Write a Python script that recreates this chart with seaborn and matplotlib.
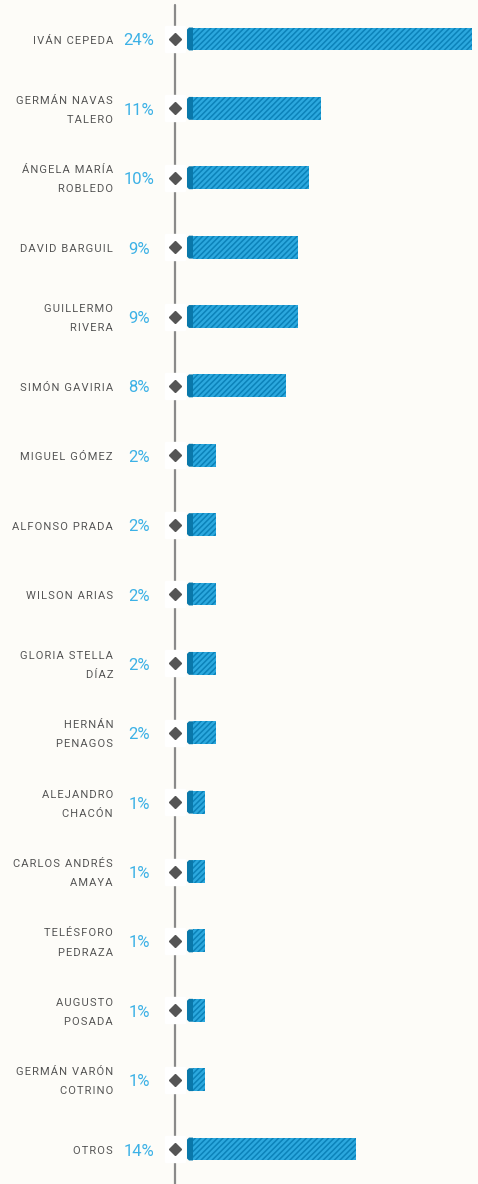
import matplotlib
matplotlib.use('Agg')
import matplotlib.pyplot as plt
import seaborn as sns
import pandas as pd

# candidates and vote share (%)
names = ['IVÁN CEPEDA', 'GERMÁN NAVAS\nTALERO', 'ÁNGELA MARÍA\nROBLEDO', 'DAVID BARGUIL',
         'GUILLERMO\nRIVERA', 'SIMÓN GAVIRIA', 'MIGUEL GÓMEZ', 'ALFONSO PRADA',
         'WILSON ARIAS', 'GLORIA STELLA\nDÍAZ', 'HERNÁN\nPENAGOS', 'ALEJANDRO\nCHACÓN',
         'CARLOS ANDRÉS\nAMAYA', 'TELÉSFORO\nPEDRAZA', 'AUGUSTO\nPOSADA',
         'GERMÁN VARÓN\nCOTRINO', 'OTROS']
values = [24, 11, 10, 9, 9, 8, 2, 2, 2, 2, 2, 1, 1, 1, 1, 1, 14]
labels = [f'{v}%' for v in values]

bg = '#fdfcf8'
bar_color = '#2ca8de'
stripe_color = '#0b82b9'
cap_color = '#0a78aa'

sns.set_style('white')
plt.rcParams['font.family'] = ['Roboto', 'DejaVu Sans']
plt.rcParams['hatch.linewidth'] = 1.1


def spaced(s):
    # fake letter spacing with hair spaces
    return '\n'.join('\u200a'.join(line) for line in s.split('\n'))


df = pd.DataFrame({'name': names, 'value': values})

fig = plt.figure(figsize=(4.78, 11.84), dpi=100, facecolor=bg)
ax = fig.add_axes([0, 0, 1, 1])
ax.set_facecolor(bg)

sns.barplot(data=df, x='value', y='name', orient='h', color=bar_color,
            saturation=1, width=0.33, ax=ax)
for p in ax.patches:
    p.set_hatch('//////')
    p.set_edgecolor(stripe_color)
    p.set_linewidth(0)

# px -> data scale
px = 11.625
py = 69.375
ax.set_xlim(-193 / px, (478 - 193) / px)
ax.set_ylim(16.504, -0.562)

line_x = -18 / px
ax.axvline(line_x, ymin=0, ymax=1 - 5 / 1184, color='#8a8a8a', lw=1.6, zorder=1)

ys = list(range(len(names)))
# white box behind the diamonds
ax.barh(ys, width=20 / px, left=(165 - 193) / px, height=26 / py,
        color='white', zorder=2)
ax.plot([line_x] * len(ys), ys, 'D', color='#555555', markersize=6.2, zorder=3)

# darker left cap of each bar
cw = 6 / px
ch = 2 / px
h = 0.33 / 2
for i in ys:
    ax.fill([-cw, -cw + ch, 0, 0, -cw + ch, -cw],
            [i - h + 2 / py, i - h, i - h, i + h, i + h, i + h - 2 / py],
            color=cap_color, lw=0, zorder=3)

dy = 2 / py
for i, (n, lab) in enumerate(zip(names, labels)):
    ax.text(-80 / px, i + dy, spaced(n), ha='right', va='center', fontsize=8,
            color='#555555', linespacing=2.15)
    ax.text(-54 / px, i + dy, lab, ha='center', va='center', fontsize=12,
            color='#3cb1e6')

ax.set_xlabel('')
ax.set_ylabel('')
ax.set_xticks([])
ax.set_yticks([])
sns.despine(left=True, bottom=True)

fig.savefig('out.png', dpi=100, facecolor=bg)
